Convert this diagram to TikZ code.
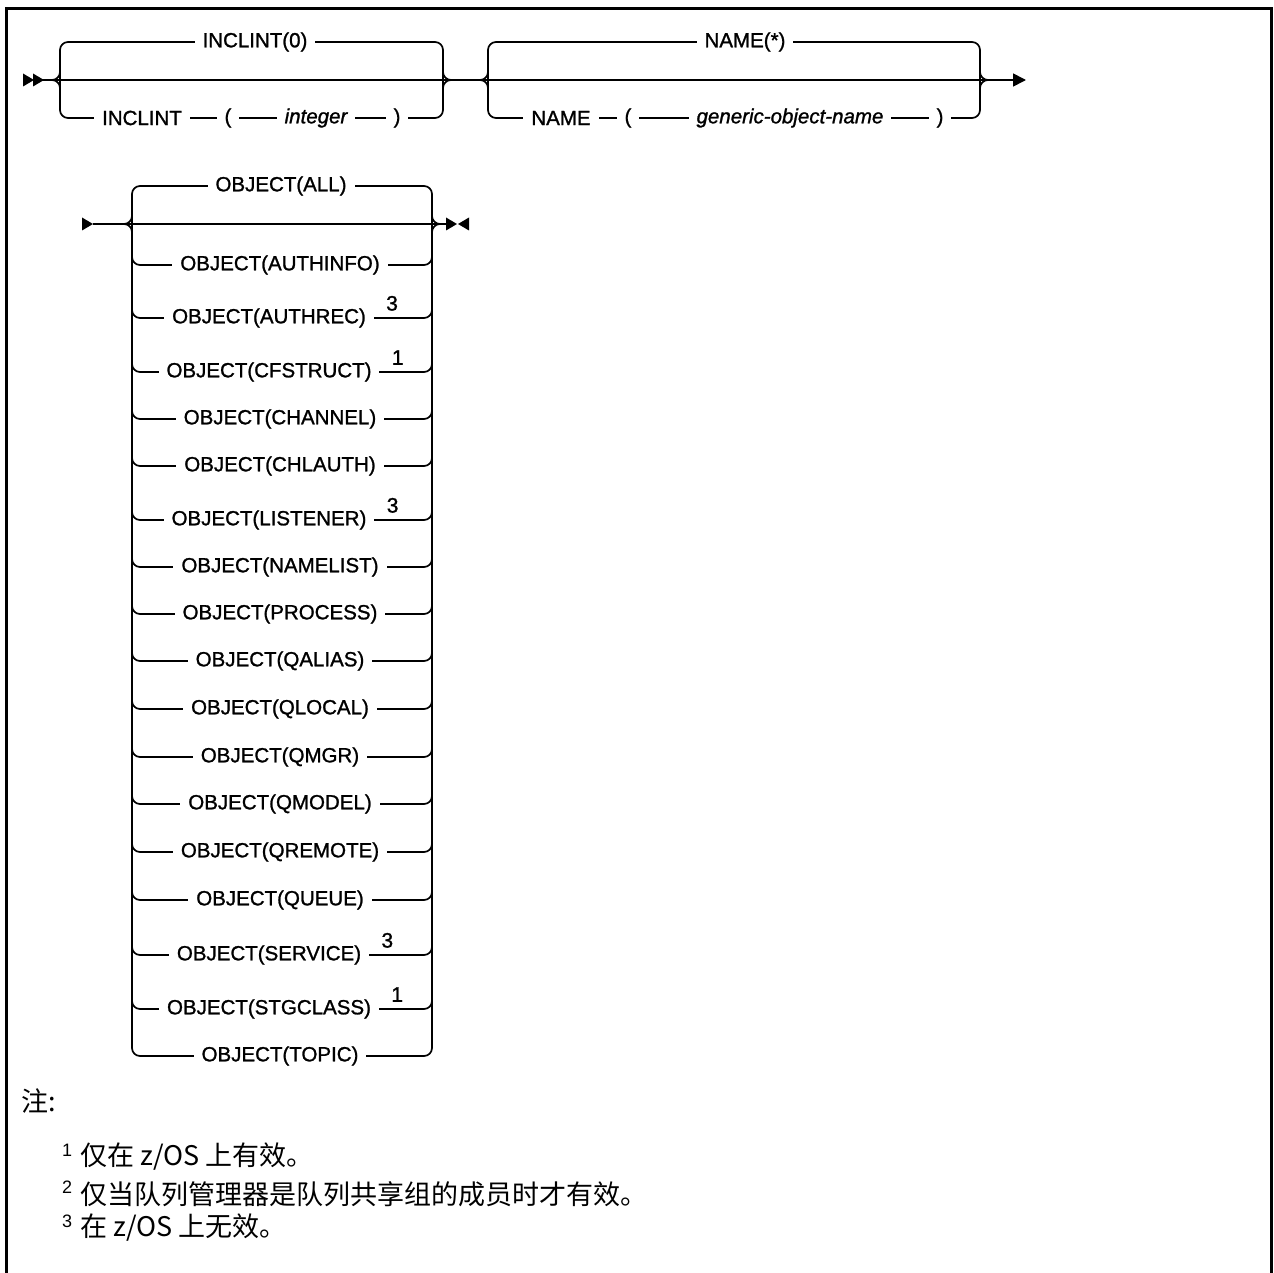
\documentclass[tikz,border=0pt]{standalone}
\usepackage{fontspec}
\setmainfont{Liberation Sans}
\newfontfamily\railfont{Liberation Sans}[FakeBold=1.2]
\newfontfamily\cjkfont{Noto Sans CJK SC}
\usetikzlibrary{arrows.meta}
\begin{document}
\begin{tikzpicture}[x=1pt,y=-1pt,
  rail/.style={line width=1.7pt, line join=round},
  br/.style={rail, rounded corners=8pt},
  lbl/.style={fill=white, inner xsep=8pt, inner ysep=2pt, font=\railfont\fontsize{20.5}{24}\selectfont},
  itlbl/.style={lbl, font=\railfont\fontsize{20.5}{24}\selectfont\itshape},
  suplbl/.style={inner sep=0pt, anchor=south west, font=\railfont\fontsize{21}{24}\selectfont},
  tri/.style={fill=black},
  notetxt/.style={anchor=west, inner sep=0pt, font=\cjkfont\fontsize{27}{30}\selectfont},
  notesup/.style={anchor=west, inner sep=0pt, font=\fontsize{18}{20}\selectfont}
]
\useasboundingbox (0,0) rectangle (1274,1273);
% frame
\draw[line width=3pt] (6.5,1290) -- (6.5,8.5) -- (1271.5,8.5) -- (1271.5,1290);

% ---------------- row 1 ----------------
\coordinate (r1s) at (43,80);
\coordinate (r1e) at (1026,80);
\fill[tri] (23,73.5) -- (34,80) -- (23,86.5) -- cycle;
\fill[tri] (33,73.5) -- (44,80) -- (33,86.5) -- cycle;
\draw[rail,-{Triangle[length=13pt,width=13pt]}] (r1s) -- (r1e);

% group 1: INCLINT
\coordinate (g1l) at (60,80);
\coordinate (g1r) at (443,80);
\draw[br] (g1l) -- (60,42) -- (443,42) -- (g1r);
\draw[br] (g1l) -- (60,118) -- (443,118) -- (g1r);
\draw[br] (40,80) -- (g1l) -- (60,60);
\draw[br] (40,80) -- (g1l) -- (60,100);
\draw[br] (463,80) -- (g1r) -- (443,60);
\draw[br] (463,80) -- (g1r) -- (443,100);
\node[lbl] (inc0) at (255,42) {INCLINT(0)};
\node[lbl] (inc) at (142,118) {INCLINT};
\node[lbl] (lp1) at (228,118) {(};
\node[itlbl] (intg) at (316,118) {integer};
\node[lbl] (rp1) at (397,118) {)};

% group 2: NAME
\coordinate (g2l) at (488,80);
\coordinate (g2r) at (980,80);
\draw[br] (g2l) -- (488,42) -- (980,42) -- (g2r);
\draw[br] (g2l) -- (488,118) -- (980,118) -- (g2r);
\draw[br] (468,80) -- (g2l) -- (488,60);
\draw[br] (468,80) -- (g2l) -- (488,100);
\draw[br] (1000,80) -- (g2r) -- (980,60);
\draw[br] (1000,80) -- (g2r) -- (980,100);
\node[lbl] (name0) at (745,42) {NAME(*)};
\node[lbl] (nm) at (561,118) {NAME};
\node[lbl] (lp2) at (628,118) {(};
\node[itlbl] (gon) at (790,118) {generic-object-name\hspace{10pt}};
\node[lbl] (rp2) at (940,118) {)};

% ---------------- OBJECT group ----------------
\coordinate (os) at (93,224);
\coordinate (oe) at (447,224);
\fill[tri] (82,217.5) -- (93,224) -- (82,230.5) -- cycle;
\draw[rail] (os) -- (oe);
\fill[tri] (446,217.5) -- (457,224) -- (446,230.5) -- cycle;
\fill[tri] (469,217.5) -- (458,224) -- (469,230.5) -- cycle;

\coordinate (ol) at (132,224);
\coordinate (or) at (432,224);
\draw[br] (ol) -- (132,186) -- (432,186) -- (or);
\draw[br] (112,224) -- (ol) -- (132,204);
\draw[br] (112,224) -- (ol) -- (132,244);
\draw[br] (452,224) -- (or) -- (432,204);
\draw[br] (452,224) -- (or) -- (432,244);
\draw[rail] (ol) -- (132,1030);
\draw[rail] (or) -- (432,1030);
\node[lbl] (oall) at (281,186) {OBJECT(ALL)};

\foreach \y/\t in {265/AUTHINFO,419/CHANNEL,466/CHLAUTH,567/NAMELIST,614/PROCESS,661/QALIAS,709/QLOCAL,757/QMGR,804/QMODEL,852/QREMOTE,900/QUEUE,1056/TOPIC}{
  \draw[br] (132,\y-26) -- (132,\y) -- (432,\y) -- (432,\y-26);
  \node[lbl] (o\y) at (280,\y) {OBJECT(\t)};
}
\foreach \y/\t/\s in {318/AUTHREC/3,372/CFSTRUCT/1,520/LISTENER/3,955/SERVICE/3,1009/STGCLASS/1}{
  \draw[br] (132,\y-26) -- (132,\y) -- (432,\y) -- (432,\y-26);
  \node[lbl] (o\y) at (269,\y) {OBJECT(\t)};
  \path (o\y.east) ++(12,-7) node[suplbl] (s\y) {\s};
}

% ---------------- notes ----------------
\node[notetxt] (notehead) at (21,1101) {注:};
\node[notesup] (ns1) at (62,1150) {1};
\node[notetxt] (n1) at (80,1157) {仅在 z/OS 上有效。};
\node[notesup] (ns2) at (62,1187) {2};
\node[notetxt] (n2) at (80,1194) {仅当队列管理器是队列共享组的成员时才有效。};
\node[notesup] (ns3) at (62,1221) {3};
\node[notetxt] (n3) at (80,1228) {在 z/OS 上无效。};
\end{tikzpicture}
\end{document}
